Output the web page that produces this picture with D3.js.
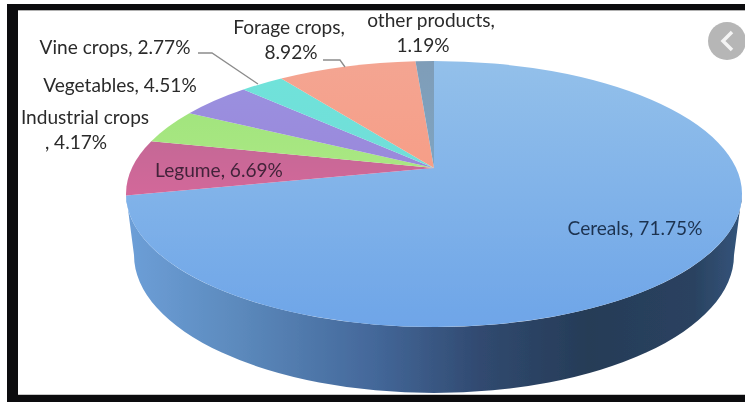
<!DOCTYPE html>
<html>
<head>
<meta charset="utf-8">
<script src="https://cdn.jsdelivr.net/npm/d3@7"></script>
<style>
  html, body { margin: 0; padding: 0; background: #fff; }
  svg { display: block; }
</style>
</head>
<body>
<svg id="chart"></svg>
<script>
const categories = ["Cereals", "Legume", "Industrial crops", "Vegetables", "Vine crops", "Forage crops", "other products"];
const shares = [71.75, 6.69, 4.17, 4.51, 2.77, 8.92, 1.19];
const sliceTop = ["#93c0ea", "#b06a90", "#9be27a", "#9a92e0", "#6fe3da", "#f4a592", "#7f9db8"];
const sliceBottom = ["#6ea5e8", "#d4679a", "#aee985", "#9a86da", "#72dcd8", "#f79c84", "#7ea6c4"];

const style = ({
    dim: { width: 745, height: 402 },
    apex: { x: 434, y: 168 },
    face: { cx: 434, cy: 194, rx: 308, ry: 133 },
    base: { cx: 434, cy: 255, rx: 300, ry: 138 },
    label: { font: "19.1px Lato, sans-serif", lineHeight: 25 }
})

// label placement, by category index; split = where the text wraps, dx = nudge of the second line
const labelLayout = [
    { x: 635, y: 235, split: null, dx: 0, fill: "#1d3350" },
    { x: 219, y: 177, split: null, dx: 0, fill: "#43243a" },
    { x: 85, y: 124, split: 16, dx: -9, fill: "#2b2b2b" },
    { x: 120, y: 92, split: null, dx: 0, fill: "#2b2b2b" },
    { x: 115, y: 54, split: null, dx: 0, fill: "#2b2b2b" },
    { x: 289, y: 34, split: 13, dx: 2, fill: "#2b2b2b" },
    { x: 431, y: 27, split: 15, dx: -8, fill: "#2b2b2b" }
]
const leaders = [
    [[198, 53], [212, 53], [258, 84]],
    [[323, 60], [340, 60], [345, 67]]
]

const svg = d3.select("#chart")
    .attr("width", style.dim.width)
    .attr("height", style.dim.height)
    .attr("viewBox", [0, 0, style.dim.width, style.dim.height]);

const defs = svg.append("defs");

defs.append("filter").attr("id", "soft")
    .append("feGaussianBlur").attr("stdDeviation", 0.5);
defs.append("filter").attr("id", "softText")
    .append("feGaussianBlur").attr("stdDeviation", 0.3);

const wallGradient = defs.append("linearGradient")
    .attr("id", "wall")
    .attr("gradientUnits", "userSpaceOnUse")
    .attr("x1", style.face.cx - style.face.rx)
    .attr("x2", style.face.cx + style.face.rx);
[[0, "#6d9fd8"], [0.18, "#5c8abd"], [0.4, "#44689a"], [0.58, "#30496f"], [0.75, "#263c57"], [0.92, "#2a4260"], [1, "#34557c"]]
    .forEach(s => wallGradient.append("stop").attr("offset", s[0]).attr("stop-color", s[1]));

categories.forEach((c, i) => {
    const g = defs.append("linearGradient")
        .attr("id", `slice${i}`)
        .attr("gradientUnits", "userSpaceOnUse")
        .attr("x1", 0).attr("x2", 0)
        .attr("y1", style.face.cy - style.face.ry)
        .attr("y2", i === 0 ? style.face.cy + style.face.ry : 200);
    g.append("stop").attr("offset", 0).attr("stop-color", sliceTop[i]);
    g.append("stop").attr("offset", 1).attr("stop-color", sliceBottom[i]);
});

// where a ray from the apex hits the tilted top ellipse
const rim = a => {
    const { cx, cy, rx, ry } = style.face;
    const k = ry / rx;
    const dx = Math.sin(a), dy = -Math.cos(a) * k;
    const ox = (style.apex.x - cx) / rx, oy = (style.apex.y - cy) / ry;
    const ux = dx / rx, uy = dy / ry;
    const A = ux * ux + uy * uy, B = 2 * (ox * ux + oy * uy), C = ox * ox + oy * oy - 1;
    const t = (-B + Math.sqrt(B * B - 4 * A * C)) / (2 * A);
    return [style.apex.x + t * dx, style.apex.y + t * dy];
};

const sweepAngle = p => {
    const { cx, cy, rx, ry } = style.face;
    return Math.atan2((p[0] - cx) / rx, -(p[1] - cy) / ry);
};

const slicePath = d => {
    const p0 = rim(d.startAngle), p1 = rim(d.endAngle);
    let span = sweepAngle(p1) - sweepAngle(p0);
    if (span < 0) span += 2 * Math.PI;
    const { rx, ry } = style.face;
    return `M${style.apex.x},${style.apex.y}L${p0}A${rx},${ry} 0 ${span > Math.PI ? 1 : 0} 1 ${p1}Z`;
};

const pie = d3.pie().sort(null).value(d => d);
const arcs = pie(shares);

const art = svg.append("g").attr("filter", "url(#soft)");

// side wall
const { face, base } = style;
art.append("path")
    .attr("d", `M${face.cx - face.rx},${face.cy}A${face.rx},${face.ry} 0 0 0 ${face.cx + face.rx},${face.cy}`
        + `L${base.cx + base.rx},${base.cy}A${base.rx},${base.ry} 0 0 1 ${base.cx - base.rx},${base.cy}Z`)
    .style("fill", "url(#wall)");

art.selectAll("path.slice")
    .data(arcs)
    .join("path")
    .attr("class", "slice")
    .attr("d", slicePath)
    .style("fill", (d, i) => `url(#slice${i})`);

const line = d3.line();
art.selectAll("path.leader")
    .data(leaders)
    .join("path")
    .attr("class", "leader")
    .attr("d", line)
    .style("fill", "none")
    .style("stroke", "#8c8c8c")
    .style("stroke-width", 1.3);

// frame
const frame = svg.append("g").style("fill", "#0c0c0e");
frame.append("rect").attr("x", 7).attr("y", 4).attr("width", 738).attr("height", 6);
frame.append("rect").attr("x", 7).attr("y", 4).attr("width", 11).attr("height", 398);
frame.append("rect").attr("x", 7).attr("y", 395).attr("width", 738).attr("height", 7);
svg.append("rect").attr("x", 18).attr("y", 10).attr("width", 727).attr("height", 1).style("fill", "#b0b0b0");
svg.append("rect").attr("x", 18).attr("y", 394).attr("width", 727).attr("height", 1).style("fill", "#c8c8c8");

// back button
const back = svg.append("g").attr("filter", "url(#soft)");
back.append("circle").attr("cx", 727).attr("cy", 41).attr("r", 19).style("fill", "#b6b6b6");
back.append("path").attr("d", line([[732, 32], [723, 41], [732, 50]]))
    .style("fill", "none").style("stroke", "#f4f4f4").style("stroke-width", 3.5);

// labels
const labels = svg.append("g")
    .attr("filter", "url(#softText)")
    .style("font", style.label.font)
    .attr("text-anchor", "middle")
    .selectAll("text")
    .data(categories)
    .join("text")
    .style("fill", (d, i) => labelLayout[i].fill)
    .attr("transform", (d, i) => `translate(${labelLayout[i].x},${labelLayout[i].y})`);

labels.each(function (d, i) {
    const full = `${d}, ${shares[i]}%`;
    const { split, dx } = labelLayout[i];
    const parts = split === null ? [full] : [full.slice(0, split), full.slice(split).trim()];
    d3.select(this).selectAll("tspan")
        .data(parts)
        .join("tspan")
        .attr("x", (p, j) => j * dx)
        .attr("y", (p, j) => j * style.label.lineHeight)
        .text(p => p);
});
</script>
</body>
</html>
